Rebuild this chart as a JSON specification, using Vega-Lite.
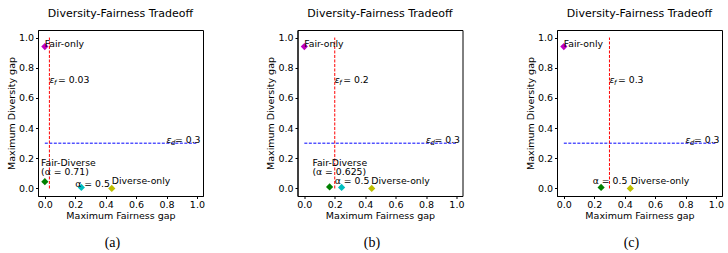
{
  "$schema": "https://vega.github.io/schema/vega-lite/v6.json",
  "padding": {"left": 5, "top": 7, "right": 0, "bottom": 0},
  "background": "white",
  "spacing": 59.5,
  "config": {
    "font": "DejaVu Sans",
    "view": {"stroke": "black", "strokeWidth": 1},
    "axis": {
      "grid": false, "domain": true, "domainColor": "black", "domainWidth": 1,
      "tickColor": "black", "tickSize": 2.5, "tickWidth": 1,
      "labelFont": "DejaVu Sans", "labelFontSize": 9.5, "labelColor": "black", "labelPadding": 2,
      "titleFont": "DejaVu Sans", "titleFontSize": 9.5, "titleFontWeight": "normal", "titleColor": "black"
    },
    "axisX": {"titlePadding": 1, "labelPadding": 1},
    "axisY": {"titlePadding": 2},
    "title": {"font": "DejaVu Sans", "fontSize": 11, "fontWeight": "normal", "color": "black", "offset": 11, "anchor": "middle", "frame": "group"}
  },
  "datasets": {
    "points": [
      {"panel": "a", "series": "Fair-only", "x": 0.0, "y": 0.94},
      {"panel": "a", "series": "Fair-Diverse", "x": 0.0, "y": 0.045},
      {"panel": "a", "series": "alpha=0.5", "x": 0.24, "y": 0.007},
      {"panel": "a", "series": "Diverse-only", "x": 0.44, "y": 0.0},
      {"panel": "b", "series": "Fair-only", "x": 0.0, "y": 0.94},
      {"panel": "b", "series": "Fair-Diverse", "x": 0.166, "y": 0.01},
      {"panel": "b", "series": "alpha=0.5", "x": 0.245, "y": 0.007},
      {"panel": "b", "series": "Diverse-only", "x": 0.443, "y": 0.0},
      {"panel": "c", "series": "Fair-only", "x": 0.0, "y": 0.94},
      {"panel": "c", "series": "Fair-Diverse", "x": 0.245, "y": 0.007},
      {"panel": "c", "series": "Diverse-only", "x": 0.437, "y": 0.0}
    ],
    "lines": [
      {"panel": "a", "kind": "eps_f", "x": 0.03, "x2": 0.03, "y": 0, "y2": 1},
      {"panel": "a", "kind": "eps_d", "x": 0, "x2": 1, "y": 0.3, "y2": 0.3},
      {"panel": "b", "kind": "eps_f", "x": 0.2, "x2": 0.2, "y": 0, "y2": 1},
      {"panel": "b", "kind": "eps_d", "x": 0, "x2": 1, "y": 0.3, "y2": 0.3},
      {"panel": "c", "kind": "eps_f", "x": 0.3, "x2": 0.3, "y": 0, "y2": 1},
      {"panel": "c", "kind": "eps_d", "x": 0, "x2": 1, "y": 0.3, "y2": 0.3}
    ],
    "labels": [
      {"panel": "a", "text": "Fair-only", "x": 0.0, "y": 0.94},
      {"panel": "a", "text": "Fair-Diverse\n(α = 0.71)", "x": -0.025, "y": 0.151},
      {"panel": "a", "text": "α = 0.5", "x": 0.2, "y": 0.01},
      {"panel": "a", "text": "Diverse-only", "x": 0.44, "y": 0.03},
      {"panel": "b", "text": "Fair-only", "x": 0.0, "y": 0.94},
      {"panel": "b", "text": "Fair-Diverse\n(α = 0.625)", "x": 0.053, "y": 0.151},
      {"panel": "b", "text": "α = 0.5", "x": 0.2, "y": 0.03},
      {"panel": "b", "text": "Diverse-only", "x": 0.44, "y": 0.03},
      {"panel": "c", "text": "Fair-only", "x": 0.0, "y": 0.94},
      {"panel": "c", "text": "α = 0.5", "x": 0.19, "y": 0.03},
      {"panel": "c", "text": "Diverse-only", "x": 0.44, "y": 0.03}
    ],
    "eps": [
      {"panel": "a", "sym": "ε", "sub": "f", "rest": "= 0.03", "x": 0.03, "y": 0.7},
      {"panel": "a", "sym": "ε", "sub": "d", "rest": "= 0.3", "x": 0.8, "y": 0.3},
      {"panel": "b", "sym": "ε", "sub": "f", "rest": "= 0.2", "x": 0.2, "y": 0.7},
      {"panel": "b", "sym": "ε", "sub": "d", "rest": "= 0.3", "x": 0.8, "y": 0.3},
      {"panel": "c", "sym": "ε", "sub": "f", "rest": "= 0.3", "x": 0.3, "y": 0.7},
      {"panel": "c", "sym": "ε", "sub": "d", "rest": "= 0.3", "x": 0.8, "y": 0.3}
    ]
  },
  "hconcat": [
    {
      "title": {"text": "(a)", "orient": "bottom", "anchor": "middle", "frame": "bounds", "font": "Liberation Serif", "fontSize": 14, "fontWeight": "normal", "dx": 7, "offset": 16},
      "vconcat": [
        {
          "title": {"text": "Diversity-Fairness Tradeoff", "anchor": "middle", "frame": "group"},
          "width": 165, "height": 166,
          "encoding": {
            "x": {"field": "x", "type": "quantitative", "scale": {"domain": [-0.045, 1.04], "nice": false, "zero": false}, "axis": {"values": [0, 0.2, 0.4, 0.6, 0.8, 1.0], "format": ".1f", "title": "Maximum Fairness gap"}},
            "y": {"field": "y", "type": "quantitative", "scale": {"domain": [-0.05, 1.05], "nice": false, "zero": false}, "axis": {"values": [0, 0.2, 0.4, 0.6, 0.8, 1.0], "format": ".1f", "title": "Maximum Diversity gap"}}
          },
          "layer": [
            {"data": {"name": "lines"}, "transform": [{"filter": "datum.panel === 'a' && datum.kind === 'eps_d'"}], "mark": {"type": "rule", "color": "#0000ff", "strokeWidth": 1, "strokeDash": [3, 1.5]}, "encoding": {"x2": {"field": "x2"}, "y2": {"field": "y2"}}},
            {"data": {"name": "lines"}, "transform": [{"filter": "datum.panel === 'a' && datum.kind === 'eps_f'"}], "mark": {"type": "rule", "color": "#ff0000", "strokeWidth": 1, "strokeDash": [3, 1.5]}, "encoding": {"x2": {"field": "x2"}, "y2": {"field": "y2"}}},
            {"data": {"name": "points"}, "transform": [{"filter": "datum.panel === 'a'"}], "mark": {"type": "point", "shape": "diamond", "filled": true, "size": 52, "opacity": 1}, "encoding": {"color": {"field": "series", "type": "nominal", "scale": {"domain": ["Fair-only", "Fair-Diverse", "alpha=0.5", "Diverse-only"], "range": ["#bf00bf", "#008000", "#00bfbf", "#bfbf00"]}, "legend": null}}},
            {"data": {"name": "labels"}, "transform": [{"filter": "datum.panel === 'a'"}], "mark": {"type": "text", "align": "left", "baseline": "alphabetic", "fontSize": 9.3, "lineBreak": "\n", "lineHeight": 9.8, "color": "black"}, "encoding": {"text": {"field": "text"}}},
            {"data": {"name": "eps"}, "transform": [{"filter": "datum.panel === 'a'"}], "mark": {"type": "text", "align": "left", "baseline": "alphabetic", "fontSize": 9.3, "fontStyle": "italic", "color": "black"}, "encoding": {"text": {"field": "sym"}}},
            {"data": {"name": "eps"}, "transform": [{"filter": "datum.panel === 'a'"}], "mark": {"type": "text", "align": "left", "baseline": "alphabetic", "fontSize": 6.8, "fontStyle": "italic", "dx": 4.5, "dy": 2, "color": "black"}, "encoding": {"text": {"field": "sub"}}},
            {"data": {"name": "eps"}, "transform": [{"filter": "datum.panel === 'a'"}], "mark": {"type": "text", "align": "left", "baseline": "alphabetic", "fontSize": 9.3, "dx": 8.5, "color": "black"}, "encoding": {"text": {"field": "rest"}}}
          ]
        }
      ]
    },
    {
      "title": {"text": "(b)", "orient": "bottom", "anchor": "middle", "frame": "bounds", "font": "Liberation Serif", "fontSize": 14, "fontWeight": "normal", "dx": 7, "offset": 16},
      "vconcat": [
        {
          "title": {"text": "Diversity-Fairness Tradeoff", "anchor": "middle", "frame": "group"},
          "width": 165, "height": 166,
          "encoding": {
            "x": {"field": "x", "type": "quantitative", "scale": {"domain": [-0.045, 1.04], "nice": false, "zero": false}, "axis": {"values": [0, 0.2, 0.4, 0.6, 0.8, 1.0], "format": ".1f", "title": "Maximum Fairness gap"}},
            "y": {"field": "y", "type": "quantitative", "scale": {"domain": [-0.05, 1.05], "nice": false, "zero": false}, "axis": {"values": [0, 0.2, 0.4, 0.6, 0.8, 1.0], "format": ".1f", "title": "Maximum Diversity gap"}}
          },
          "layer": [
            {"data": {"name": "lines"}, "transform": [{"filter": "datum.panel === 'b' && datum.kind === 'eps_d'"}], "mark": {"type": "rule", "color": "#0000ff", "strokeWidth": 1, "strokeDash": [3, 1.5]}, "encoding": {"x2": {"field": "x2"}, "y2": {"field": "y2"}}},
            {"data": {"name": "lines"}, "transform": [{"filter": "datum.panel === 'b' && datum.kind === 'eps_f'"}], "mark": {"type": "rule", "color": "#ff0000", "strokeWidth": 1, "strokeDash": [3, 1.5]}, "encoding": {"x2": {"field": "x2"}, "y2": {"field": "y2"}}},
            {"data": {"name": "points"}, "transform": [{"filter": "datum.panel === 'b'"}], "mark": {"type": "point", "shape": "diamond", "filled": true, "size": 52, "opacity": 1}, "encoding": {"color": {"field": "series", "type": "nominal", "scale": {"domain": ["Fair-only", "Fair-Diverse", "alpha=0.5", "Diverse-only"], "range": ["#bf00bf", "#008000", "#00bfbf", "#bfbf00"]}, "legend": null}}},
            {"data": {"name": "labels"}, "transform": [{"filter": "datum.panel === 'b'"}], "mark": {"type": "text", "align": "left", "baseline": "alphabetic", "fontSize": 9.3, "lineBreak": "\n", "lineHeight": 9.8, "color": "black"}, "encoding": {"text": {"field": "text"}}},
            {"data": {"name": "eps"}, "transform": [{"filter": "datum.panel === 'b'"}], "mark": {"type": "text", "align": "left", "baseline": "alphabetic", "fontSize": 9.3, "fontStyle": "italic", "color": "black"}, "encoding": {"text": {"field": "sym"}}},
            {"data": {"name": "eps"}, "transform": [{"filter": "datum.panel === 'b'"}], "mark": {"type": "text", "align": "left", "baseline": "alphabetic", "fontSize": 6.8, "fontStyle": "italic", "dx": 4.5, "dy": 2, "color": "black"}, "encoding": {"text": {"field": "sub"}}},
            {"data": {"name": "eps"}, "transform": [{"filter": "datum.panel === 'b'"}], "mark": {"type": "text", "align": "left", "baseline": "alphabetic", "fontSize": 9.3, "dx": 8.5, "color": "black"}, "encoding": {"text": {"field": "rest"}}}
          ]
        }
      ]
    },
    {
      "title": {"text": "(c)", "orient": "bottom", "anchor": "middle", "frame": "bounds", "font": "Liberation Serif", "fontSize": 14, "fontWeight": "normal", "dx": 7, "offset": 16},
      "vconcat": [
        {
          "title": {"text": "Diversity-Fairness Tradeoff", "anchor": "middle", "frame": "group"},
          "width": 165, "height": 166,
          "encoding": {
            "x": {"field": "x", "type": "quantitative", "scale": {"domain": [-0.045, 1.04], "nice": false, "zero": false}, "axis": {"values": [0, 0.2, 0.4, 0.6, 0.8, 1.0], "format": ".1f", "title": "Maximum Fairness gap"}},
            "y": {"field": "y", "type": "quantitative", "scale": {"domain": [-0.05, 1.05], "nice": false, "zero": false}, "axis": {"values": [0, 0.2, 0.4, 0.6, 0.8, 1.0], "format": ".1f", "title": "Maximum Diversity gap"}}
          },
          "layer": [
            {"data": {"name": "lines"}, "transform": [{"filter": "datum.panel === 'c' && datum.kind === 'eps_d'"}], "mark": {"type": "rule", "color": "#0000ff", "strokeWidth": 1, "strokeDash": [3, 1.5]}, "encoding": {"x2": {"field": "x2"}, "y2": {"field": "y2"}}},
            {"data": {"name": "lines"}, "transform": [{"filter": "datum.panel === 'c' && datum.kind === 'eps_f'"}], "mark": {"type": "rule", "color": "#ff0000", "strokeWidth": 1, "strokeDash": [3, 1.5]}, "encoding": {"x2": {"field": "x2"}, "y2": {"field": "y2"}}},
            {"data": {"name": "points"}, "transform": [{"filter": "datum.panel === 'c'"}], "mark": {"type": "point", "shape": "diamond", "filled": true, "size": 52, "opacity": 1}, "encoding": {"color": {"field": "series", "type": "nominal", "scale": {"domain": ["Fair-only", "Fair-Diverse", "alpha=0.5", "Diverse-only"], "range": ["#bf00bf", "#008000", "#00bfbf", "#bfbf00"]}, "legend": null}}},
            {"data": {"name": "labels"}, "transform": [{"filter": "datum.panel === 'c'"}], "mark": {"type": "text", "align": "left", "baseline": "alphabetic", "fontSize": 9.3, "lineBreak": "\n", "lineHeight": 9.8, "color": "black"}, "encoding": {"text": {"field": "text"}}},
            {"data": {"name": "eps"}, "transform": [{"filter": "datum.panel === 'c'"}], "mark": {"type": "text", "align": "left", "baseline": "alphabetic", "fontSize": 9.3, "fontStyle": "italic", "color": "black"}, "encoding": {"text": {"field": "sym"}}},
            {"data": {"name": "eps"}, "transform": [{"filter": "datum.panel === 'c'"}], "mark": {"type": "text", "align": "left", "baseline": "alphabetic", "fontSize": 6.8, "fontStyle": "italic", "dx": 4.5, "dy": 2, "color": "black"}, "encoding": {"text": {"field": "sub"}}},
            {"data": {"name": "eps"}, "transform": [{"filter": "datum.panel === 'c'"}], "mark": {"type": "text", "align": "left", "baseline": "alphabetic", "fontSize": 9.3, "dx": 8.5, "color": "black"}, "encoding": {"text": {"field": "rest"}}}
          ]
        }
      ]
    }
  ]
}
